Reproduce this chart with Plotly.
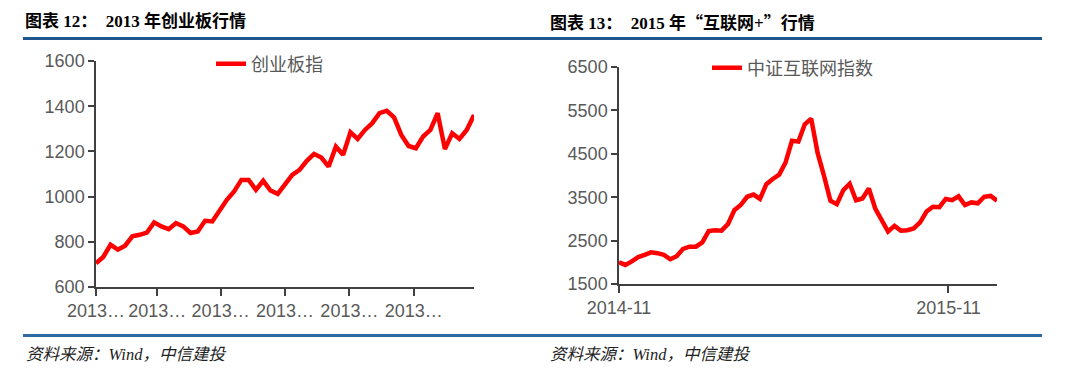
import datetime as dt
import plotly.graph_objects as go

# ---------------- data ----------------
left_start = dt.date(2013, 1, 4)
left_values = [705, 733, 787, 765, 783, 824, 831, 841, 886, 868,
               856, 883, 868, 839, 846, 893, 890, 939, 986, 1023,
               1074, 1074, 1030, 1070, 1027, 1012, 1057, 1096, 1118, 1158,
               1189, 1173, 1133, 1221, 1185, 1285, 1255, 1295, 1325, 1369,
               1380, 1351, 1273, 1224, 1214, 1266, 1295, 1369, 1210, 1280,
               1255, 1295, 1361]
left_dates = [left_start + dt.timedelta(weeks=i) for i in range(len(left_values))]
left_tickvals = ["2013-01-04", "2013-03-04", "2013-05-04", "2013-07-05", "2013-09-05", "2013-11-06"]
left_ticktext = ["2013…"] * 6
left_name = "创业板指"

right_start = dt.date(2014, 11, 7)
right_values = [2000, 1940, 2020, 2120, 2170, 2230, 2210, 2170, 2070, 2140,
                2310, 2360, 2360, 2460, 2720, 2740, 2730, 2880, 3200, 3320,
                3510, 3560, 3460, 3800, 3920, 4020, 4300, 4800, 4780, 5180,
                5310, 4520, 3990, 3420, 3340, 3660, 3810, 3430, 3470, 3700,
                3240, 2970, 2710, 2840, 2730, 2740, 2780, 2920, 3170, 3280,
                3270, 3460, 3430, 3520, 3320, 3380, 3360, 3510, 3530, 3420]
right_dates = [right_start + dt.timedelta(weeks=i) for i in range(len(right_values))]
right_tickvals = ["2014-11-07", "2015-11-02"]
right_ticktext = ["2014-11", "2015-11"]
right_name = "中证互联网指数"

CJK = '<span style="font-family:Noto Sans CJK SC">'
left_title = "图表 12：  2013 年创业板行情"
right_title = "图表 13：  2015 年" + CJK + "“</span>互联网+" + CJK + "”</span>行情"
source_text = "资料来源：Wind，中信建投"

# ---------------- figure ----------------
# page body has an 8px margin, so the figure is drawn 8px in from the corner
OFF = 8
W, H = 1080 - OFF, 381 - OFF
def px(x):
    return (x - OFF) / W
def py(y):
    return 1 - (y - OFF) / H

RED = "#FF0000"
GRAY = "#595959"
AXIS = "#404040"
tickfont = dict(family="Liberation Sans, Arial, sans-serif", size=18, color=GRAY)

fig = go.Figure()
fig.add_trace(go.Scatter(x=left_dates, y=left_values, mode="lines", name=left_name,
                         line=dict(color=RED, width=4.5), xaxis="x", yaxis="y", legend="legend"))
fig.add_trace(go.Scatter(x=right_dates, y=right_values, mode="lines", name=right_name,
                         line=dict(color=RED, width=4.5), xaxis="x2", yaxis="y2", legend="legend2"))

axis_common = dict(showline=True, linecolor=AXIS, linewidth=1.5, ticks="outside",
                   tickcolor=AXIS, tickwidth=1.5, showgrid=False, zeroline=False,
                   tickfont=tickfont, fixedrange=True, automargin=False)

fig.update_layout(
    width=W, height=H,
    margin=dict(l=0, r=0, t=0, b=0, autoexpand=False),
    paper_bgcolor="white", plot_bgcolor="white",
    xaxis=dict(domain=[px(96), px(474)], anchor="y", type="date",
               range=[left_dates[0], left_dates[-1]], tickangle=0,
               tickvals=left_tickvals, ticktext=left_ticktext, ticklen=7, **axis_common),
    yaxis=dict(domain=[py(287), py(61)], anchor="x", range=[600, 1600], dtick=200,
               tick0=600, ticklen=6, **axis_common),
    xaxis2=dict(domain=[px(619), px(997)], anchor="y2", type="date",
                range=[right_dates[0], right_dates[-1]], tickangle=0,
                tickvals=right_tickvals, ticktext=right_ticktext, ticklen=7, **axis_common),
    yaxis2=dict(domain=[py(284), py(67)], anchor="x2", range=[1500, 6500], dtick=1000,
                tick0=1500, ticklen=6, **axis_common),
    showlegend=True,
    legend=dict(x=px(211), y=py(64), xanchor="left", yanchor="middle",
                bgcolor="rgba(0,0,0,0)", font=dict(family="Noto Sans CJK SC", size=18, color=GRAY),
                borderwidth=0),
    legend2=dict(x=px(707), y=py(68), xanchor="left", yanchor="middle",
                 bgcolor="rgba(0,0,0,0)", font=dict(family="Noto Sans CJK SC", size=18, color=GRAY),
                 borderwidth=0),
)

title_font = dict(family="Liberation Serif, Noto Sans CJK SC", size=17, color="black")
foot_font = dict(family="Liberation Serif, Noto Sans CJK SC", size=16.5, color="#222222")
for x0, t in [(23, left_title), (548, right_title)]:
    fig.add_annotation(x=px(x0), y=py(21), xref="paper", yref="paper", text="<b>" + t + "</b>",
                       showarrow=False, xanchor="left", yanchor="middle", font=title_font)
for x0 in [24, 548]:
    fig.add_annotation(x=px(x0), y=py(354), xref="paper", yref="paper", text="<i>" + source_text + "</i>",
                       showarrow=False, xanchor="left", yanchor="middle", font=foot_font)

fig.add_shape(type="line", xref="paper", yref="paper", x0=px(23), x1=px(1042), y0=py(38.5), y1=py(38.5),
              line=dict(color="#1E5690", width=3))
fig.add_shape(type="line", xref="paper", yref="paper", x0=px(23), x1=px(1042), y0=py(335.5), y1=py(335.5),
              line=dict(color="#2F6AA3", width=3))

fig.write_html("out.html")
